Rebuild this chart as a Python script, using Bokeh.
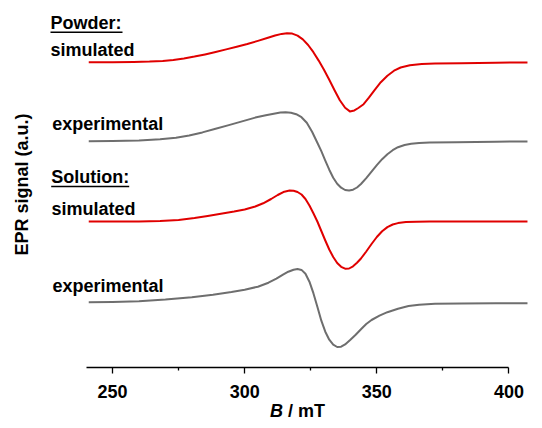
import numpy as np
from bokeh.plotting import figure
from bokeh.models import Label, FixedTicker, Range1d, LinearAxis
from bokeh.embed import file_html
from bokeh.resources import INLINE

# ---------------- data (B in mT, signal in arbitrary units) ----------------
tick_vals = [250, 300, 350, 400]
minor_vals = [275, 325, 375]
tick_labels = ["250", "300", "350", "400"]

powder_sim_B = [241, 250, 258, 264, 269, 273, 277, 281, 285, 289, 293, 297, 301, 305, 308.5,
                311.5, 314, 316, 318, 320, 322, 324, 326, 328, 330, 332, 334, 336, 338,
                339.8, 341.5, 343, 345, 347, 349, 351.5, 354, 356.5, 359, 362.5, 367, 372,
                382, 395, 407]
powder_sim_S = [0, 0, 0.2, 0.6, 1.3, 2.3, 3.8, 5.6, 7.8, 10.2, 12.8, 15.4, 18.2, 21.3, 24.2,
                26.7, 28.3, 29.0, 28.6, 26.6, 22.8, 17.2, 10.0, 1.6, -7.6, -17.6, -28.0,
                -38.0, -45.6, -49.2, -48.2, -45.8, -42.0, -35.5, -28.4, -20.0, -13.5, -8.5,
                -5.3, -3.0, -1.8, -1.3, -1.0, -0.5, -0.3]

powder_exp_B = [241, 250, 260, 268, 274, 279, 284, 289, 294, 299, 304, 308, 311, 313.5, 315.5,
                317.5, 319.5, 321.5, 323.5, 325.5, 327.5, 329, 330.5, 332, 333.5, 335, 336.5,
                338, 339.5, 341, 342.5, 344, 346, 348, 350, 352, 354, 356, 358, 360.5, 363,
                366, 370, 380, 395, 407]
powder_exp_S = [0, 0.2, 0.7, 2, 3.4, 5.8, 8.8, 12.4, 16.1, 19.8, 23.6, 26, 27.5, 28.6, 29,
                28.5, 27, 24, 18.5, 9.5, -1.5, -10, -19.5, -28.5, -36.5, -42.5, -46.5,
                -48.8, -49.4, -48.5, -46.3, -42.8, -37, -30.5, -24, -18, -13, -9, -6, -3.8, -2.6,
                -1.9, -1.4, -1, -0.5, -0.3]

solution_sim_B = [241, 250, 260, 268, 275, 281, 286, 291, 296, 300, 304, 307, 310, 312.5, 315,
                  317, 318.5, 320, 321.5, 323, 324.5, 326, 327.5, 329, 330.5, 332, 333.5, 335,
                  336.5, 338, 339.5, 341, 342.5, 344, 346, 348, 350, 352, 354, 356, 358, 361,
                  365, 370, 385, 407]
solution_sim_S = [0, 0, 0, 0.5, 1.6, 3.5, 5.6, 7.7, 9.9, 12, 15, 18.2, 22.5, 26.5, 29.8,
                  31, 30.8, 29.5, 27, 22.5, 16, 8.3, 0, -9.5, -19, -28, -35.5, -41.5,
                  -45.3, -47.2, -47, -44.8, -41.3, -37, -30, -22.5, -15.5, -9.8, -5.6, -3, -1.6,
                  -0.6, -0.2, 0, 0, 0]

solution_exp_B = [241, 250, 260, 270, 280, 288, 295, 300, 305, 309, 312, 314.5, 316.5, 318.5,
                  320, 321.5, 323, 324.5, 326, 327.5, 329, 330.5, 332, 333.5, 335, 336.5, 338,
                  340, 342, 344, 346, 348, 351, 354, 358, 362, 366, 372, 382, 395, 407]
solution_exp_S = [0, 0.3, 1, 2.6, 5, 7.4, 10.2, 12.5, 15.5, 19.5, 23.5, 27.5, 30.5, 32.5,
                  33.2, 32.3, 28.5, 20.5, 9, -4.5, -18.5, -29.5, -37.5, -42.5, -44.8, -44.5,
                  -42.2, -37.5, -32.5, -27, -21.8, -17.8, -13.5, -10, -6.5, -3.8, -2.5, -1.6,
                  -1.2, -1, -1]

# vertical offsets of the stacked traces (a.u.)
offsets = {"powder_sim": 305.3, "powder_exp": 226.3, "solution_sim": 146.0, "solution_exp": 65.3}

# ---------------- layout ----------------
W, H = 542, 428
AXIS_PY = 367          # screen y of the B axis
PX_PER_MT = 2.643
X0_PX = 85.6           # screen x of 240 mT
x_start = 240 - X0_PX / PX_PER_MT
x_end = x_start + W / PX_PER_MT
MID = 6.3              # distance from text baseline to text middle (18px font)


def dx(px):
    return x_start + px / PX_PER_MT


def dy(py):
    return AXIS_PY - py


RED = "#e00000"
GREY = "#6e6e6e"
FONT = "Liberation Sans"

p = figure(width=W, height=H, output_backend="svg", toolbar_location=None, title=None,
           x_range=Range1d(x_start, x_end), y_range=Range1d(AXIS_PY - H, AXIS_PY),
           x_axis_location=None, y_axis_location=None, min_border=0)
p.outline_line_color = None
p.grid.visible = False
p.background_fill_color = "white"
p.border_fill_color = "white"

ax = LinearAxis(fixed_location=0)
ax.bounds = (240, 400)
ax.ticker = FixedTicker(ticks=tick_vals, minor_ticks=minor_vals)
ax.major_label_overrides = {v: l for v, l in zip(tick_vals, tick_labels)}
ax.major_label_text_font = FONT
ax.major_label_text_font_style = "bold"
ax.major_label_text_font_size = "18px"
ax.major_label_text_color = "black"
ax.major_label_standoff = 11
ax.axis_line_color = "black"
ax.axis_line_width = 1.3
ax.major_tick_line_color = "black"
ax.major_tick_line_width = 1.3
ax.minor_tick_line_color = "black"
ax.minor_tick_line_width = 1.3
ax.major_tick_in = 0
ax.major_tick_out = 6
ax.minor_tick_in = 0
ax.minor_tick_out = 3
p.add_layout(ax, "below")

traces = [
    (powder_sim_B, powder_sim_S, offsets["powder_sim"], RED),
    (powder_exp_B, powder_exp_S, offsets["powder_exp"], GREY),
    (solution_sim_B, solution_sim_S, offsets["solution_sim"], RED),
    (solution_exp_B, solution_exp_S, offsets["solution_exp"], GREY),
]
for xb, ys, off, col in traces:
    p.line(xb, np.array(ys) + off, line_color=col, line_width=2, line_join="round")


def add_label(px, py, text, style="bold", angle=0.0, align="left"):
    # py is the text baseline (screen px); placed via its middle
    p.add_layout(Label(x=dx(px), y=dy(py - MID), text=text, text_font=FONT,
                       text_font_style=style, text_font_size="18px", text_color="black",
                       angle=angle, text_align=align, text_baseline="middle"))


labels = [
    (50, 28.3, "Powder:", 72),
    (50, 56, "simulated", 0),
    (51.7, 129.5, "experimental", 0),
    (50.7, 182.7, "Solution:", 78),
    (51, 214.3, "simulated", 0),
    (52, 291.7, "experimental", 0),
]
for px, py, t, ul in labels:
    add_label(px, py, t)
    if ul:
        p.segment(x0=[dx(px)], x1=[dx(px + ul)], y0=[dy(py + 3.4)], y1=[dy(py + 3.4)],
                  line_color="black", line_width=1.5)

p.add_layout(Label(x=dx(21.7), y=dy(184), text="EPR signal (a.u.)", text_font=FONT,
                   text_font_style="bold", text_font_size="18px", text_color="black",
                   angle=np.pi / 2, text_align="center", text_baseline="middle"))
add_label(269.5, 417, "B", style="bold italic")
add_label(287.5, 417, "/ mT")

open("out.html", "w").write(file_html(p, INLINE))
